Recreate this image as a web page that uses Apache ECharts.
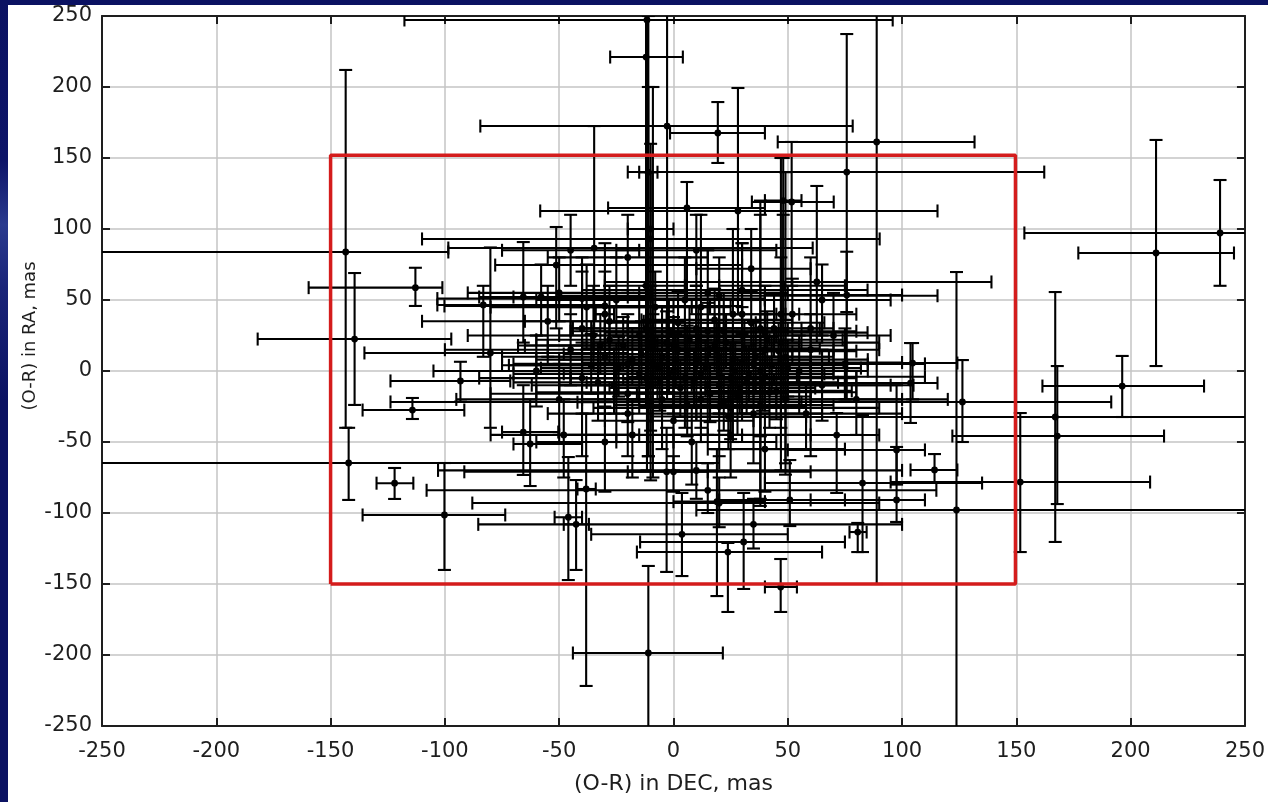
<!DOCTYPE html>
<html>
<head>
<meta charset="utf-8">
<script src="https://cdn.jsdelivr.net/npm/echarts@6/dist/echarts.min.js"></script>
<style>
  html, body { margin: 0; padding: 0; width: 1268px; height: 802px; overflow: hidden;
    background: linear-gradient(180deg, #0b1262 0%, #0d1468 20%, #2a3a8e 28%, #1a2478 36%, #0b1262 50%, #0b1262 100%); }
  #chart { position: absolute; left: 8px; top: 5px; width: 1260px; height: 797px; background: #ffffff; }
</style>
</head>
<body>
<div id="chart"></div>
<script>
// ---- data (mas) : centre and error-bar extents ----
const dec = [-143.4,-142.1,-139.5,-112.9,-114.2,-93.2,-80.1,-122,-100.2,-65.7,-62.7,-11,-38.2,-46,-42.6,3.7,23.8,30.7,46.9,80.6,97.6,82.7,50.9,71.4,19,-3,196.3,167,167.9,151.7,123.8,126.4,103.7,104.6,114.2,97.6,211.1,239.1,88.9,75.8,51.7,62.7,75.8,-11.6,-2.8,-12,19.4,28.2,5.9,-34.7,-51.3,-65.7,-57.9,-83.2,-10,30,20,40,10,15,20,35,0,-40,-30,
  -11,-10,-12,-11,-10,48,48,47,49,38,30,20,10,0,5,15,25,35,-5,-20,-25,-30,-35,-40,-15,10,22,30,40,12,20,28,-5,-20,0,35,42,55,60,58,65,75,80,70,-45,-50,-55,-60,-48,-30,-18,8,25,40,-8,5,15,-25,-38,2,18,-2,12,26,-12,32,44,-28,52,-50,34,-20,10,-45,65,-33,7,-7,24,-14,
  -28,-22,-18,-15,-9,-6,-3,1,3,6,9,11,14,16,19,21,23,27,29,31,33,36,39,41,43,45,46,50,-24,-26,-32,-12,2,18,34,-10,6,22,38,-36,-2,10,20,0,30,-8,15,25,-20,40,-11,-9,47,49,38,12,-30,26,-40,60];
const ra = [83.8,-64.8,22.5,58.7,-27.5,-7,12.7,-79,-101.4,-43,-51.4,-198.6,-83.1,-103,-108,-115,-127.5,-120.4,-152.1,-113.4,-90.8,-78.9,-90.8,-45.1,-92,-71,-10.6,-32.4,-45.8,-78.2,-97.9,-21.8,-8.5,5.6,-69.7,-55.6,83.1,97.2,161.3,140.1,119,62.7,53.5,247.2,172.5,221.1,167.6,112.7,114.8,86.6,74.6,52.1,52.1,46.5,93,57,53,27,-70,-84,-93,-108,-71,51,45.8,
  140,100,60,20,-10,120,60,20,-20,0,40,10,5,0,-5,-10,-5,5,10,5,-15,10,25,-5,25,30,28,25,15,-20,-25,-18,-20,-30,-35,-30,-15,0,15,-30,-10,5,-20,25,15,-20,35,0,-45,-50,-45,-50,-45,-55,45,50,55,50,45,15,18,28,-2,8,-5,-8,30,35,40,55,72,80,85,85,50,-8,22,2,-32,12,
  22,18,8,-2,16,-8,20,6,-12,12,-6,24,2,-16,14,-4,20,0,-12,16,-2,10,-8,22,4,-14,14,2,2,-10,18,30,34,36,34,-22,-24,-22,-24,4,-2,8,-10,18,6,4,28,-26,-16,-4,35,5,40,10,30,45,40,40,30,30];
const decLo = [-270,-270,-181.9,-159.6,-136,-123.8,-135.2,-129.9,-136,-75,-70,-44,-42,-52,-48,-36,-16,-14.6,40,77,60,40,20,30,0,-20,161.4,0,122,95,10,-123.8,30,20,103.7,50,177.1,153.5,45.6,-20,34.3,-30,40,-117.7,-84.5,-27.7,-1.5,-58.3,-28.6,-98.5,-78,-85,-70,-103.3,-110,-40,-50,-30,-103,-108,-88,-85.4,-91.5,-103.3,-100.2,
  -15,-20,-30,-40,-50,40,20,-10,0,0,10,-30,-40,-60,-45,-30,-20,-10,-55,-70,-60,-75,-90,-85,-50,-20,-10,0,15,-20,-15,0,-40,-55,-30,10,20,30,35,30,40,50,60,45,-100,-95,-110,-105,-80,-60,-50,-25,0,15,-45,-30,-15,-60,-80,-35,-15,-35,-25,-5,-45,0,20,-65,30,-90,10,-55,-25,-75,40,-70,-28,-40,-10,-48,
  -60,-55,-50,-48,-40,-38,-35,-30,-28,-26,-22,-20,-18,-16,-12,-10,-8,-4,-2,0,2,5,8,10,12,14,16,20,-58,-62,-68,-45,-30,-14,2,-42,-26,-10,6,-72,-70,-60,-50,-65,-40,-75,-45,-35,-80,-20,-13,-12,45,46,36,8,-34,22,-44,56];
const decHi = [-98.5,20,-97.2,-101.1,-91.5,-71.4,-20,-113.8,-73.6,-50.4,-40,21.6,-34,-40,-37,50,65,75,54,84.5,110,135,75,90,40,15,232.1,270,214.6,208.5,270,191.5,115.5,124.2,124.2,110,245.2,270,131.7,162.2,70.1,139.1,100,95.9,78.4,4.1,40,115.5,40,60.9,30,-20,-10,-30,90.2,84.9,115.5,84.9,100,115,90,100,60,40,30,
  -7,0,5,30,40,56,75,90,100,70,55,70,60,50,55,75,80,85,35,25,20,15,5,0,30,50,60,65,70,45,55,60,30,10,35,65,80,85,90,100,105,110,120,95,-10,-15,-20,-25,-15,0,15,45,60,75,25,40,50,10,0,40,55,30,50,60,20,65,70,0,80,-10,60,15,45,-15,95,5,42,25,58,18,
  5,12,15,20,25,28,30,32,36,40,44,45,48,50,52,54,56,60,62,64,66,68,72,74,76,78,80,82,10,8,2,22,36,52,66,24,40,56,70,-2,70,85,95,75,100,60,80,90,40,110,-9,-6,49,52,40,16,-26,30,-36,64];
const raLo = [-40,-90.8,-23.9,45.8,-33.8,-21.6,-40,-90.1,-140.1,-73.2,-81,-270,-221.8,-147.2,-140.1,-144.4,-169.7,-153.5,-169.7,-127.5,-106.3,-127.5,-109.2,-85.9,-158.5,-141.5,-32.4,-120.4,-93.7,-127.5,-270,-50,-36.6,-20,-78.8,-80,3.5,60,-150,-20,60,20,41.5,-70,-20,30,146.5,40,50,30,30,20,25,10,50,30,20,0,-90,-100,-110,-125,-85,20,20,
  60,20,-20,-60,-77,30,-20,-40,-73,-90,-10,-30,-25,-30,-40,-45,-35,-20,-15,-30,-50,-20,0,-30,0,5,0,5,-5,-50,-60,-45,-55,-60,-70,-65,-40,-25,-10,-55,-35,-20,-45,0,-10,-45,10,-25,-75,-85,-75,-80,-75,-85,20,25,30,25,15,-5,0,10,-20,-15,-25,-30,10,15,20,35,50,55,60,60,25,-35,0,-20,-55,-10,
  5,0,-10,-20,-5,-28,2,-12,-32,-6,-26,5,-16,-36,-4,-24,2,-18,-30,-2,-22,-10,-28,2,-16,-34,-6,-18,-18,-30,-2,10,14,16,14,-42,-46,-42,-46,-16,-15,-10,-30,0,-12,-12,10,-48,-36,-24,-60,-75,-70,-65,-95,-40,-30,-50,-60,-60];
const raHi = [212,-40,69,72.7,-19,6.5,87,-68.3,-64.8,-10,-20,-137.3,-30,-60.6,-76.8,-85.9,-121.1,-85.9,-132.4,-107,-53.5,-31,-62.7,-29.6,-55,-40,10.6,55.6,3.5,-29.6,69.7,7.7,19.7,19.7,-58.5,-10,162.7,134.5,270,237.3,161.3,130.3,84,270,270,270,189.4,199.3,133.1,172.5,101.4,90.8,75,60,140,90,80,60,-50,-65,-75,-90,-60,80,70,
  200,160,140,100,60,150,110,80,30,110,90,50,40,35,30,25,20,35,45,40,20,55,60,30,55,60,55,45,40,5,-5,10,10,-5,-10,-5,10,25,40,-10,15,30,0,55,40,5,60,25,-20,-25,-20,-25,-20,-30,70,80,85,80,75,35,40,50,20,30,15,15,55,60,65,80,100,110,110,110,75,20,45,25,-10,35,
  45,38,30,22,40,14,42,26,8,32,15,45,22,4,34,16,40,20,8,36,18,30,14,42,24,6,34,22,24,12,40,52,56,58,56,-2,-4,-2,-4,26,12,25,10,38,26,22,48,-6,4,16,250,200,150,140,120,110,90,100,70,80];
const tickValues = [-250,-200,-150,-100,-50,0,50,100,150,200,250];
const boxDec = [-150, 149.6];
const boxRa = [-150, 152];

const points = dec.map((d, i) => [d, ra[i], decLo[i], decHi[i], raLo[i], raHi[i]]);
const boxData = [[boxDec[0], boxRa[0]], [boxDec[0], boxRa[1]], [boxDec[1], boxRa[1]], [boxDec[1], boxRa[0]], [boxDec[0], boxRa[0]]];

const chart = echarts.init(document.getElementById('chart'), null, {renderer: 'canvas'});
const FONT = 'DejaVu Sans';
const TXT = '#1e1e1e';
const baseAxis = {
  type: 'value', min: -250, max: 250, interval: 50,
  axisLine: { show: true, onZero: false, lineStyle: { color: '#1e1e1e', width: 2 } },
  axisTick: { show: true, inside: true, length: 8, lineStyle: { color: '#1e1e1e', width: 2 } },
  splitLine: { show: false }
};
function renderItem(params, api) {
  const x = api.value(0), y = api.value(1);
  const c = api.coord([x, y]);
  const l = api.coord([api.value(2), y]), r = api.coord([api.value(3), y]);
  const b = api.coord([x, api.value(4)]), t = api.coord([x, api.value(5)]);
  const cap = 6.5;
  const st = { stroke: '#000', lineWidth: 2.1 };
  const kids = [];
  kids.push({ type: 'line', shape: { x1: l[0], y1: c[1], x2: r[0], y2: c[1] }, style: st });
  kids.push({ type: 'line', shape: { x1: l[0], y1: c[1] - cap, x2: l[0], y2: c[1] + cap }, style: st });
  kids.push({ type: 'line', shape: { x1: r[0], y1: c[1] - cap, x2: r[0], y2: c[1] + cap }, style: st });
  kids.push({ type: 'line', shape: { x1: c[0], y1: b[1], x2: c[0], y2: t[1] }, style: st });
  kids.push({ type: 'line', shape: { x1: c[0] - cap, y1: b[1], x2: c[0] + cap, y2: b[1] }, style: st });
  kids.push({ type: 'line', shape: { x1: c[0] - cap, y1: t[1], x2: c[0] + cap, y2: t[1] }, style: st });
  kids.push({ type: 'circle', shape: { cx: c[0], cy: c[1], r: 3.4 }, style: { fill: '#000' } });
  return { type: 'group', children: kids };
}
chart.setOption({
  animation: false,
  backgroundColor: '#ffffff',
  grid: { left: 94, right: 21, top: 11, bottom: 76, containLabel: false },
  xAxis: [
    Object.assign({}, baseAxis, {
      position: 'bottom',
      splitLine: { show: true, lineStyle: { color: '#c4c4c4', width: 1.5 } },
      axisLabel: { show: true, margin: 15, color: TXT, fontSize: 21, fontFamily: FONT, customValues: tickValues },
      name: '(O-R) in DEC, mas', nameLocation: 'middle', nameGap: 47,
      nameTextStyle: { color: TXT, fontSize: 22, fontFamily: FONT }
    }),
    Object.assign({}, baseAxis, { position: 'top', axisLabel: { show: false } })
  ],
  yAxis: [
    Object.assign({}, baseAxis, {
      position: 'left',
      splitLine: { show: true, lineStyle: { color: '#c4c4c4', width: 1.5 } },
      axisLabel: { show: true, margin: 10, color: TXT, fontSize: 21, fontFamily: FONT }
    }),
    Object.assign({}, baseAxis, { position: 'right', axisLabel: { show: false } })
  ],
  graphic: [{
    type: 'text', z: 10,
    x: 22, y: 331, rotation: Math.PI / 2,
    style: { text: '(O-R) in RA, mas', fill: TXT, font: '18px "DejaVu Sans"', textAlign: 'center', textVerticalAlign: 'middle' }
  }],
  series: [
    { type: 'custom', xAxisIndex: 0, yAxisIndex: 0, renderItem: renderItem, data: points, clip: true, z: 2 },
    { type: 'line', xAxisIndex: 0, yAxisIndex: 0, data: boxData, symbol: 'none', z: 5,
      lineStyle: { color: '#d41c1c', width: 3.5 } }
  ]
});
</script>
</body>
</html>
